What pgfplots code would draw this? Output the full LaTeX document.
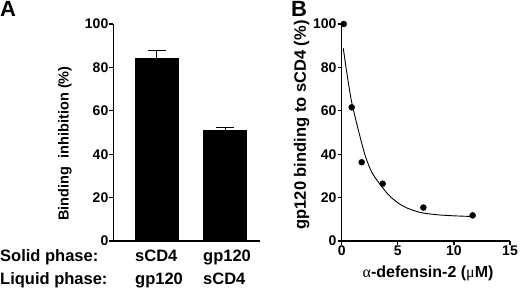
\documentclass[border=0pt]{standalone}
\usepackage{fontspec}
\setmainfont{Liberation Sans}
\newfontfamily\greekfont{Liberation Serif}
\usepackage{pgfplots}
\pgfplotsset{compat=1.18}
\begin{document}
\begin{tikzpicture}
\path[use as bounding box] (0pt,0pt) rectangle (520pt,291pt);
\pgfplotsset{
  myaxis/.style={
    scale only axis,
    axis x line*=bottom, axis y line*=left,
    axis line style={-, line width=1.3pt, black},
    every tick/.style={line width=1.2pt, black},
    major tick length=4pt, tick align=outside,
    /pgf/number format/assume math mode=true,
    tick label style={font=\bfseries\fontsize{14}{14}\selectfont, inner sep=1pt},
    ymin=0, ymax=100, ytick={0,20,40,60,80,100},
    clip=false,
  }
}
% Panel A
\begin{axis}[myaxis, at={(113.5pt,50pt)}, anchor=south west,
  width=146.5pt, height=217pt,
  xmin=0.368, xmax=2.512, xtick=\empty,
  ybar, bar width=0.634,
  ylabel={Binding\hspace{0.6em}inhibition (\%)},
  ylabel style={font=\bfseries\fontsize{14.5}{14.5}\selectfont, at={(axis description cs:-0.331,0.449)}, anchor=center},
]
\addplot[fill=black, draw=black,
  error bars/.cd, y dir=plus, y explicit,
  error bar style={line width=1pt, black},
  error mark options={rotate=90, mark size=9pt, line width=1pt, black}]
  coordinates {(1,84.3) +- (0,3.3) (2,51.0) +- (0,1.3)};
\end{axis}
% Panel B
\begin{axis}[myaxis, at={(341.7pt,50pt)}, anchor=south west,
  width=168.3pt, height=217pt,
  xmin=0, xmax=15, xtick={0,5,10,15},
  ylabel={gp120 binding to sCD4 (\%)},
  ylabel style={font=\bfseries\fontsize{16.5}{16.5}\selectfont, at={(axis description cs:-0.238,0.535)}, anchor=center},
  xlabel={{\greekfont\mdseries α}-defensin-2 ({\greekfont\mdseries μ}M)},
  xlabel style={font=\bfseries\fontsize{16}{16}\selectfont, at={(axis description cs:0.513,-0.15)}, anchor=center},
]
\addplot[only marks, mark=*, mark size=3pt, black]
  coordinates {(0.18,100) (0.89,61.6) (1.78,36.3) (3.65,26.4) (7.28,15.4) (11.67,11.8)};
\addplot[smooth, line width=0.9pt, black]
  coordinates {(0.14,88.8) (0.5,76) (0.89,64) (1.48,51.2) (2.08,39.6) (2.67,31.8) (3.41,26.2) (4.3,20.6) (5.49,16.0) (6.98,13.2) (8.5,12.1) (10,11.6) (11.58,11.3)};
\end{axis}
% category labels
\begin{scope}[every node/.style={anchor=base west, inner sep=0pt, font=\bfseries\fontsize{16.5}{16.5}\selectfont}]
\node at (0pt,29.3pt) {Solid phase:};
\node at (135pt,29.3pt) {sCD4};
\node at (203pt,29.3pt) {gp120};
\node at (0pt,6pt) {Liquid phase:};
\node at (135pt,6pt) {gp120};
\node at (203pt,6pt) {sCD4};
\end{scope}
\node[anchor=north west, inner sep=0pt, font=\bfseries\fontsize{22}{22}\selectfont] at (0pt,289.5pt) {A};
\node[anchor=north west, inner sep=0pt, font=\bfseries\fontsize{22}{22}\selectfont] at (291pt,289.5pt) {B};
\end{tikzpicture}
\end{document}
